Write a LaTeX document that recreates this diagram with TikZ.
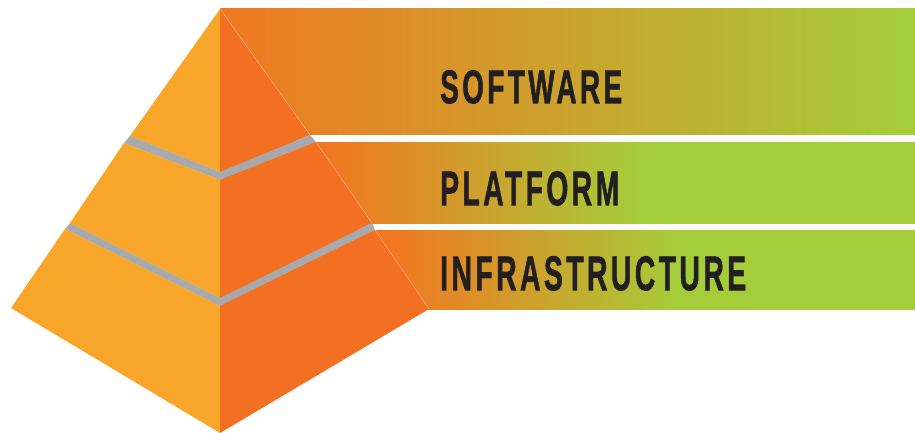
\documentclass[tikz,border=0pt]{standalone}
\usepackage{fontspec}
\usepackage{graphicx}
\newfontfamily\bandfont{Liberation Sans}[LetterSpace=12,FakeBold=1.5]
\definecolor{faceL}{HTML}{F8A629}
\definecolor{faceR}{HTML}{F36F21}
\definecolor{sepgray}{HTML}{A7A9AC}
\definecolor{bandgreen}{HTML}{A5CD39}
\definecolor{bandorange}{HTML}{F17822}
\definecolor{labeltext}{HTML}{231F20}
% path box maps to 25bp..75bp of each shading
\pgfdeclarehorizontalshading{bandone}{100bp}{color(0bp)=(bandorange); color(25bp)=(bandorange); color(74.3bp)=(bandgreen); color(100bp)=(bandgreen)}
\pgfdeclarehorizontalshading{bandtwo}{100bp}{color(0bp)=(bandorange); color(33bp)=(bandorange); color(55.2bp)=(bandgreen); color(100bp)=(bandgreen)}
\pgfdeclarehorizontalshading{bandthree}{100bp}{color(0bp)=(bandorange); color(37.5bp)=(bandorange); color(58bp)=(bandgreen); color(100bp)=(bandgreen)}
\tikzset{
  leftface/.style={fill=faceL},
  rightface/.style={fill=faceR},
  sep/.style={fill=sepgray},
  bandlabel/.style={anchor=north west, inner sep=0pt, text=labeltext},
}
\begin{document}
\begin{tikzpicture}[x=1pt,y=-1pt]
\useasboundingbox (0,0) rectangle (915,433);
% bands
\shade[shading=bandone] (220,9) rectangle (915,135);
\shade[shading=bandtwo] (220,142) rectangle (915,223);
\shade[shading=bandthree] (220,230) rectangle (915,309);
% pyramid tier 1
\fill[leftface] (220,9) -- (130,136) -- (220,172) -- cycle;
\fill[rightface] (220,9) -- (310,135) -- (220,172) -- cycle;
\fill[sep] (130,136) -- (220,172) -- (310,135) -- (316,142) -- (220,180) -- (124,143) -- cycle;
% tier 2
\fill[leftface] (124,143) -- (220,180) -- (220,298) -- (70,223) -- cycle;
\fill[rightface] (220,180) -- (316,142) -- (372,223) -- (220,298) -- cycle;
\fill[sep] (70,223) -- (220,298) -- (372,223) -- (375,230) -- (220,306) -- (65,229) -- cycle;
% tier 3
\fill[leftface] (65,229) -- (220,306) -- (220,433) -- (11,308) -- cycle;
\fill[rightface] (220,306) -- (375,230) -- (429,309) -- (220,433) -- cycle;
% faint light edges
\draw[white, line width=0.3pt, opacity=0.6] (220,9) -- (310,135) (316,142) -- (372,223) (375,230) -- (429,309);
% labels
\node[bandlabel] (software) at (440,70) {\resizebox{182pt}{33pt}{\bandfont\bfseries SOFTWARE}};
\node[bandlabel] (platform) at (440,171) {\resizebox{179pt}{34pt}{\bandfont\bfseries PLATFORM}};
\node[bandlabel] (infra) at (440,256) {\resizebox{306pt}{34pt}{\bandfont\bfseries INFRASTRUCTURE}};
\end{tikzpicture}
\end{document}
